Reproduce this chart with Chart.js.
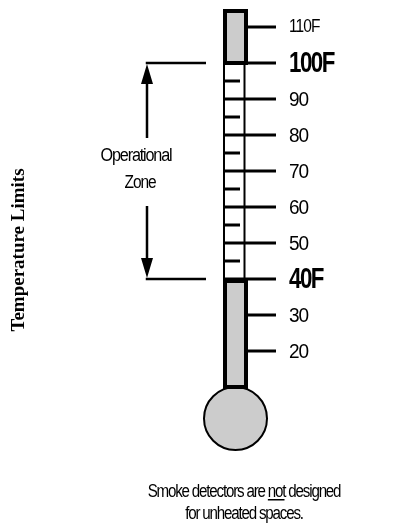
<!DOCTYPE html>
<html>
<head>
<meta charset="utf-8">
<script src="https://cdn.jsdelivr.net/npm/chart.js@4.4.1/dist/chart.umd.min.js"></script>
<style>
  html, body { margin: 0; padding: 0; background: #ffffff; }
  #wrap { width: 403px; height: 529px; position: relative; }
</style>
</head>
<body>
<div id="wrap"><canvas id="c"></canvas></div>
<script>
// ---- data (°F) ----
const majorTicks = [20, 30, 40, 50, 60, 70, 80, 90, 100, 110];
const tickLabels = ['20', '30', '40F', '50', '60', '70', '80', '90', '100F', '110F'];
const minorTicks = [45, 55, 65, 75, 85, 95];
const zoneLimits = [40, 100];          // operational zone (low, high)
const lowerFill = [10, 40];            // grey column below the zone
const upperFill = [100, 115];          // grey column above the zone
const zoneLabel = ['Operational', 'Zone'];
const axisTitle = 'Temperature Limits';
const noteLines = ['Smoke detectors are ', 'not', ' designed', 'for unheated spaces.'];

// ---- styles ----
const GREY = '#cccccc';
const INK = '#000000';
const SANS = '"Liberation Sans", Arial, sans-serif';
const SERIF = '"Liberation Serif", "Times New Roman", serif';

// draw text squeezed horizontally by factor sx
function txt(ctx, s, x, y, font, align, spacing, sx) {
  ctx.save();
  ctx.font = font;
  try { ctx.letterSpacing = (spacing || 0) + 'px'; } catch (e) {}
  ctx.translate(x, y);
  ctx.scale(sx || 1, 1);
  ctx.textAlign = align || 'left';
  ctx.fillText(s, 0, 0);
  ctx.restore();
}

const thermometer = {
  id: 'thermometer',
  afterDraw(chart) {
    const ctx = chart.ctx;
    const X = v => chart.scales.x.getPixelForValue(v);
    const Y = v => chart.scales.y.getPixelForValue(v);
    ctx.save();
    ctx.fillStyle = INK;
    ctx.strokeStyle = INK;
    ctx.lineCap = 'butt';

    const tubeL = X(223), tubeR = X(248);
    const tubeC = (tubeL + tubeR) / 2;

    // bulb
    const bulbTop = Y(lowerFill[0]);
    const r = 31.5;
    ctx.beginPath();
    ctx.arc(tubeC, bulbTop + r, r, 0, Math.PI * 2);
    ctx.fillStyle = GREY; ctx.fill();
    ctx.lineWidth = 2; ctx.strokeStyle = INK; ctx.stroke();

    // grey columns with thick borders
    function column(lo, hi) {
      const yTop = Y(hi), yBot = Y(lo);
      ctx.fillStyle = GREY;
      ctx.fillRect(tubeL, yTop, tubeR - tubeL, yBot - yTop);
      ctx.lineWidth = 4;
      ctx.strokeStyle = INK;
      ctx.strokeRect(tubeL + 2, yTop + 2, tubeR - tubeL - 4, yBot - yTop - 4 + 2);
    }
    column(lowerFill[0], lowerFill[1]);
    column(upperFill[0], upperFill[1]);

    // thin tube walls in the zone
    ctx.lineWidth = 2;
    ctx.beginPath();
    ctx.moveTo(tubeL + 1, Y(zoneLimits[1])); ctx.lineTo(tubeL + 1, Y(zoneLimits[0]));
    ctx.moveTo(tubeR - 3.5, Y(zoneLimits[1])); ctx.lineTo(tubeR - 3.5, Y(zoneLimits[0]));
    ctx.stroke();

    // major ticks
    const tickEnd = X(276);
    ctx.lineWidth = 3;
    majorTicks.forEach(v => {
      const inZone = v >= zoneLimits[0] && v <= zoneLimits[1];
      const x0 = inZone ? tubeL : tubeR;
      ctx.beginPath();
      ctx.moveTo(x0, Y(v)); ctx.lineTo(tickEnd, Y(v));
      ctx.stroke();
    });
    // minor ticks
    minorTicks.forEach(v => {
      ctx.beginPath();
      ctx.moveTo(tubeL, Y(v)); ctx.lineTo(X(240), Y(v));
      ctx.stroke();
    });

    // tick labels
    ctx.fillStyle = INK;
    ctx.textBaseline = 'middle';
    majorTicks.forEach((v, i) => {
      const lab = tickLabels[i];
      const big = zoneLimits.includes(v);
      const small = /F$/.test(lab) && !big;
      if (big) txt(ctx, lab, X(289), Y(v) + 1, 'bold 29px ' + SANS, 'left', -2, 0.77);
      else if (small) txt(ctx, lab, X(289), Y(v), '18px ' + SANS, 'left', -1, 0.86);
      else txt(ctx, lab, X(289), Y(v) + 1, '20px ' + SANS, 'left', -1.2, 0.95);
    });

    // operational zone arrows
    const ax = X(147);
    const yHi = Y(zoneLimits[1]), yLo = Y(zoneLimits[0]);
    ctx.lineWidth = 2.5;
    ctx.beginPath();
    ctx.moveTo(ax - 1.25, yHi); ctx.lineTo(X(206), yHi);
    ctx.moveTo(ax - 1.25, yLo); ctx.lineTo(X(206), yLo);
    ctx.moveTo(ax, yHi + 18); ctx.lineTo(ax, yHi + 75);
    ctx.moveTo(ax, yLo - 18); ctx.lineTo(ax, yLo - 73);
    ctx.stroke();
    ctx.beginPath();
    ctx.moveTo(ax, yHi + 1); ctx.lineTo(ax - 6, yHi + 21); ctx.lineTo(ax + 6, yHi + 21); ctx.closePath();
    ctx.moveTo(ax, yLo - 1); ctx.lineTo(ax - 6, yLo - 21); ctx.lineTo(ax + 6, yLo - 21); ctx.closePath();
    ctx.fill();

    ctx.textBaseline = 'alphabetic';
    txt(ctx, zoneLabel[0], X(136), yHi + 98, '18px ' + SANS, 'center', -1.3, 0.9);
    txt(ctx, zoneLabel[1], X(140), yHi + 125, '18px ' + SANS, 'center', -1.3, 0.86);

    // axis title (rotated)
    ctx.save();
    ctx.translate(X(24), 250);
    ctx.rotate(-Math.PI / 2);
    txt(ctx, axisTitle, 0, 0, 'bold 19px ' + SERIF, 'center', 0, 1);
    ctx.restore();

    // note
    const f = '18px ' + SANS, sp = -1.4, sx = 0.84;
    ctx.save();
    ctx.font = f;
    try { ctx.letterSpacing = sp + 'px'; } catch (e) {}
    const w1 = ctx.measureText(noteLines[0]).width;
    const w2 = ctx.measureText(noteLines[1]).width;
    const w3 = ctx.measureText(noteLines[2]).width;
    const total = w1 + w2 + w3;
    const yb1 = 497, yb2 = 519;
    ctx.save();
    ctx.translate(X(244), yb1);
    ctx.scale(sx, 1);
    let x = -total / 2;
    ctx.textAlign = 'left';
    ctx.fillText(noteLines[0], x, 0);
    ctx.fillText(noteLines[1], x + w1, 0);
    ctx.fillText(noteLines[2], x + w1 + w2, 0);
    ctx.fillRect(x + w1, 2, w2 - 1, 1.5);
    ctx.restore();
    ctx.save();
    ctx.translate(X(244), yb2);
    ctx.scale(sx, 1);
    ctx.textAlign = 'center';
    ctx.fillText(noteLines[3], 0, 0);
    ctx.restore();
    ctx.restore();

    ctx.restore();
  }
};

// scale: 40F at y=279 px, 100F at y=63 px (3.6 px per degree)
const pxPerDeg = 3.6;
const yMax = zoneLimits[1] + 63 / pxPerDeg;
const yMin = zoneLimits[0] - (529 - 279) / pxPerDeg;

new Chart(document.getElementById('c'), {
  type: 'scatter',
  data: { datasets: [{ data: [], showLine: false }] },
  options: {
    responsive: true,
    maintainAspectRatio: false,
    animation: false,
    events: [],
    layout: { padding: 0 },
    plugins: { legend: { display: false }, tooltip: { enabled: false } },
    scales: {
      x: { type: 'linear', display: false, min: 0, max: 403 },
      y: { type: 'linear', display: false, min: yMin, max: yMax }
    }
  },
  plugins: [thermometer]
});
</script>
</body>
</html>
